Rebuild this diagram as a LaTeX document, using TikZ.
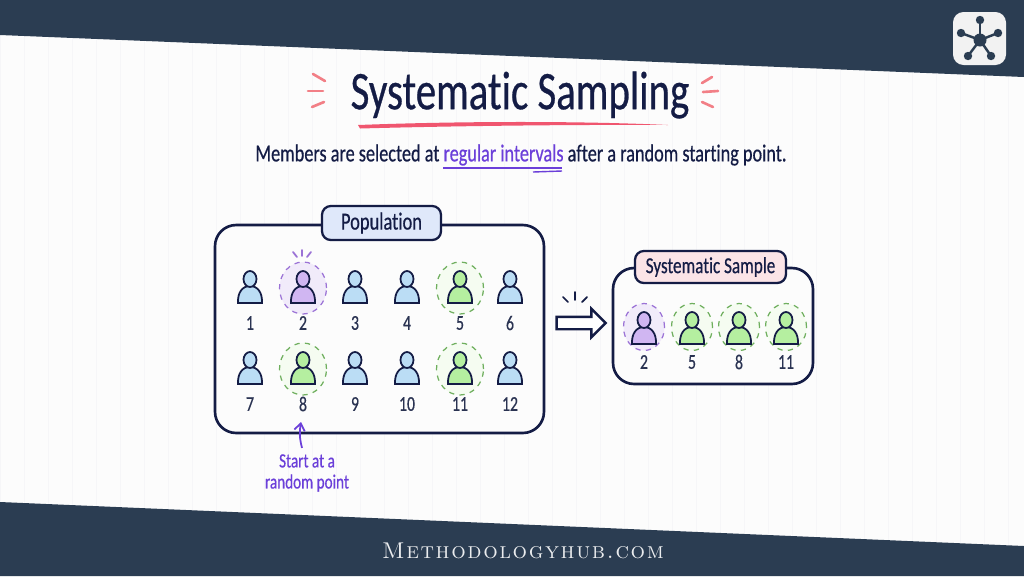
\documentclass[tikz,border=0pt]{standalone}
\usepackage{fontspec}
\usetikzlibrary{shapes.geometric,shapes.arrows,arrows.meta}
\newfontfamily\handfont[FakeStretch=0.75,FakeBold=0.5,Ligatures=NoCommon,Numbers=Lining]{Carlito}
\newfontfamily\sitefont[LetterSpace=7,SmallCapsFont={Latin Modern Roman Caps},SmallCapsFeatures={LetterSpace=7}]{Latin Modern Roman}
\definecolor{bandnavy}{HTML}{2B3D52}
\definecolor{paper}{HTML}{FCFCFC}
\definecolor{gridgray}{HTML}{F6F6F8}
\definecolor{inknavy}{HTML}{141C45}
\definecolor{numink}{HTML}{2A3352}
\definecolor{rosepink}{HTML}{F0566F}
\definecolor{tickpink}{HTML}{F27F86}
\definecolor{hlpurple}{HTML}{6B3FD9}
\definecolor{bluebody}{HTML}{BBDDF5}
\definecolor{purplebody}{HTML}{D0B6F2}
\definecolor{greenbody}{HTML}{B5EFA0}
\definecolor{purplering}{HTML}{9B72D6}
\definecolor{purplehalo}{HTML}{F1EBFA}
\definecolor{greenring}{HTML}{6FAF5E}
\definecolor{greenhalo}{HTML}{F5FCF1}
\definecolor{pophead}{HTML}{DFE8FA}
\definecolor{samphead}{HTML}{FBE4E7}
\tikzset{
  bigbox/.style={draw=inknavy,line width=1.5pt,rounded corners=12pt,fill=paper,inner sep=0pt},
  tagbox/.style={draw=inknavy,line width=1.3pt,rounded corners=5pt,inner sep=0pt,text=inknavy,font=\handfont\fontsize{13}{15}\selectfont},
  numtext/.style={text=numink,inner sep=0pt,font=\handfont\fontsize{12}{14}\selectfont},
  purplezone/.style={ellipse,draw=purplering,dashed,line width=.7pt,fill=purplehalo,inner sep=0pt},
  greenzone/.style={ellipse,draw=greenring,dashed,line width=.7pt,fill=greenhalo,inner sep=0pt},
  pics/person/.style={code={
    \draw[draw=inknavy,line width=1pt,fill=#1] (-12,15) .. controls (-12.5,5) and (-8,-2) .. (0,-2)
      .. controls (8,-2) and (12.5,5) .. (12,15) -- cycle;
    \draw[draw=inknavy,line width=1pt,fill=#1] (0,-9) ellipse (6.5 and 8);
  }}
}
\begin{document}
\begin{tikzpicture}[x=0.02cm,y=-0.02cm]
  \useasboundingbox (0,0) rectangle (1024,576);
  \fill[paper] (0,0) rectangle (1024,576);
  \draw[gridgray,line width=.3pt,step=24] (0,0) grid (1024,576);
  \fill[bandnavy] (0,0) -- (1024,0) -- (1024,77) -- (0,35) -- cycle;
  \fill[bandnavy] (0,502) -- (1024,546) -- (1024,576) -- (0,576) -- cycle;
  % logo
  \fill[rounded corners=6pt,fill=white!95!black] (953,12) rectangle (1006,65);
  \foreach \x/\y in {980/20,961/33,998/33,968/56,991/56} {
    \draw[bandnavy,line width=1.4pt] (980,40) -- (\x,\y);
    \fill[bandnavy] (\x,\y) circle (4.2);
  }
  \fill[bandnavy] (980,40) circle (6.5);
  % title
  \node[text=inknavy,inner sep=0pt,font=\handfont\fontsize{31}{36}\selectfont] (title) at (520,95) {Systematic Sampling};
  \fill[rosepink] (358,125) .. controls (450,121.5) and (570,120.5) .. (668,125) .. controls (570,124.5) and (450,126) .. (360,128.5) -- cycle;
  \foreach \xa/\ya/\xb/\yb in {313/74/325/81,308/91/323/91,312/107/324/102,712/77/702/83,718/91/703/92,713/107/702/102} {
    \draw[tickpink,line width=1.5pt,line cap=round] (\xa,\ya) -- (\xb,\yb);
  }
  \node[text=inknavy,inner sep=0pt,font=\handfont\fontsize{13.85}{16}\selectfont] (subtitle) at (521,155) {Members are selected at \textcolor{hlpurple}{regular intervals} after a random starting point.};
  \draw[hlpurple,line width=1pt] (443,168) -- (562,168);
  \draw[hlpurple,line width=.8pt] (533,172) -- (562,171);
  % population
  \node[bigbox,minimum width=6.58cm,minimum height=4.16cm] (popbox) at (379.5,329) {};
  \node[tagbox,fill=pophead,minimum width=2.38cm,minimum height=.68cm,font=\handfont\fontsize{14}{16}\selectfont] (poptag) at (381.5,223) {Population};
  \foreach \x/\y/\n/\body/\zone in {250/288/1/bluebody/,303/288/2/purplebody/purplezone,355/288/3/bluebody/,407/288/4/bluebody/,460/288/5/greenbody/greenzone,510/288/6/bluebody/,
    250/369/7/bluebody/,303/369/8/greenbody/greenzone,355/369/9/bluebody/,407/369/10/bluebody/,460/369/11/greenbody/greenzone,510/369/12/bluebody/} {
    \ifx\zone\empty\else
      \node[\zone,minimum width=.94cm,minimum height=1.04cm] (zone\n) at (\x,\y) {};
    \fi
    \pic at (\x,\y) {person=\body};
    \node[numtext] (num\n) at (\x,\y+35) {\n};
  }
  \foreach \xa/\ya/\xb/\yb in {302/250/302/256,293/252/297/257,311/252/307/257} {
    \draw[purplering,line width=1pt,line cap=round] (\xa,\ya) -- (\xb,\yb);
  }
  % start label
  \node[text=hlpurple,align=center,inner sep=0pt,font=\handfont\fontsize{11.5}{12}\selectfont] (startlabel) at (307,473) {Start at a\\random point};
  \coordinate (starttip) at (301,422);
  \draw[-{Straight Barb[length=4pt,width=6pt]},hlpurple,line width=1pt] (startlabel.north -| 302,0) ++(0,-6) to[bend left=12] (starttip);
  % arrow
  \node[single arrow,draw=inknavy,fill=white,line width=1.4pt,inner xsep=0pt,inner ysep=.1cm,single arrow head extend=.16cm,minimum height=.98cm,single arrow head indent=0pt] (bigarrow) at (578,323) {};
  \foreach \xa/\ya/\xb/\yb in {575/292/575/300,563/297/568/302,587/297/582/302} {
    \draw[inknavy,line width=1pt,line cap=round] (\xa,\ya) -- (\xb,\yb);
  }
  % sample
  \node[bigbox,minimum width=4cm,minimum height=2.32cm] (sampbox) at (713,326) {};
  \node[tagbox,fill=samphead,minimum width=3.02cm,minimum height=.64cm] (samptag) at (710.5,267) {Systematic Sample};
  \foreach \x/\n/\body/\zone in {644/2/purplebody/purplezone,692/5/greenbody/greenzone,739/8/greenbody/greenzone,786/11/greenbody/greenzone} {
    \node[\zone,minimum width=.82cm,minimum height=.94cm] (pick\n) at (\x,327) {};
    \begin{scope}[shift={(\x,329)},scale=.9]
      \pic {person=\body};
    \end{scope}
    \node[numtext] (picknum\n) at (\x,362) {\n};
  }
  \node[text=white!90!bandnavy,inner sep=0pt,font=\sitefont\scshape\fontsize{13}{15}\selectfont] (site) at (523,551) {Methodologyhub.com};
\end{tikzpicture}
\end{document}
